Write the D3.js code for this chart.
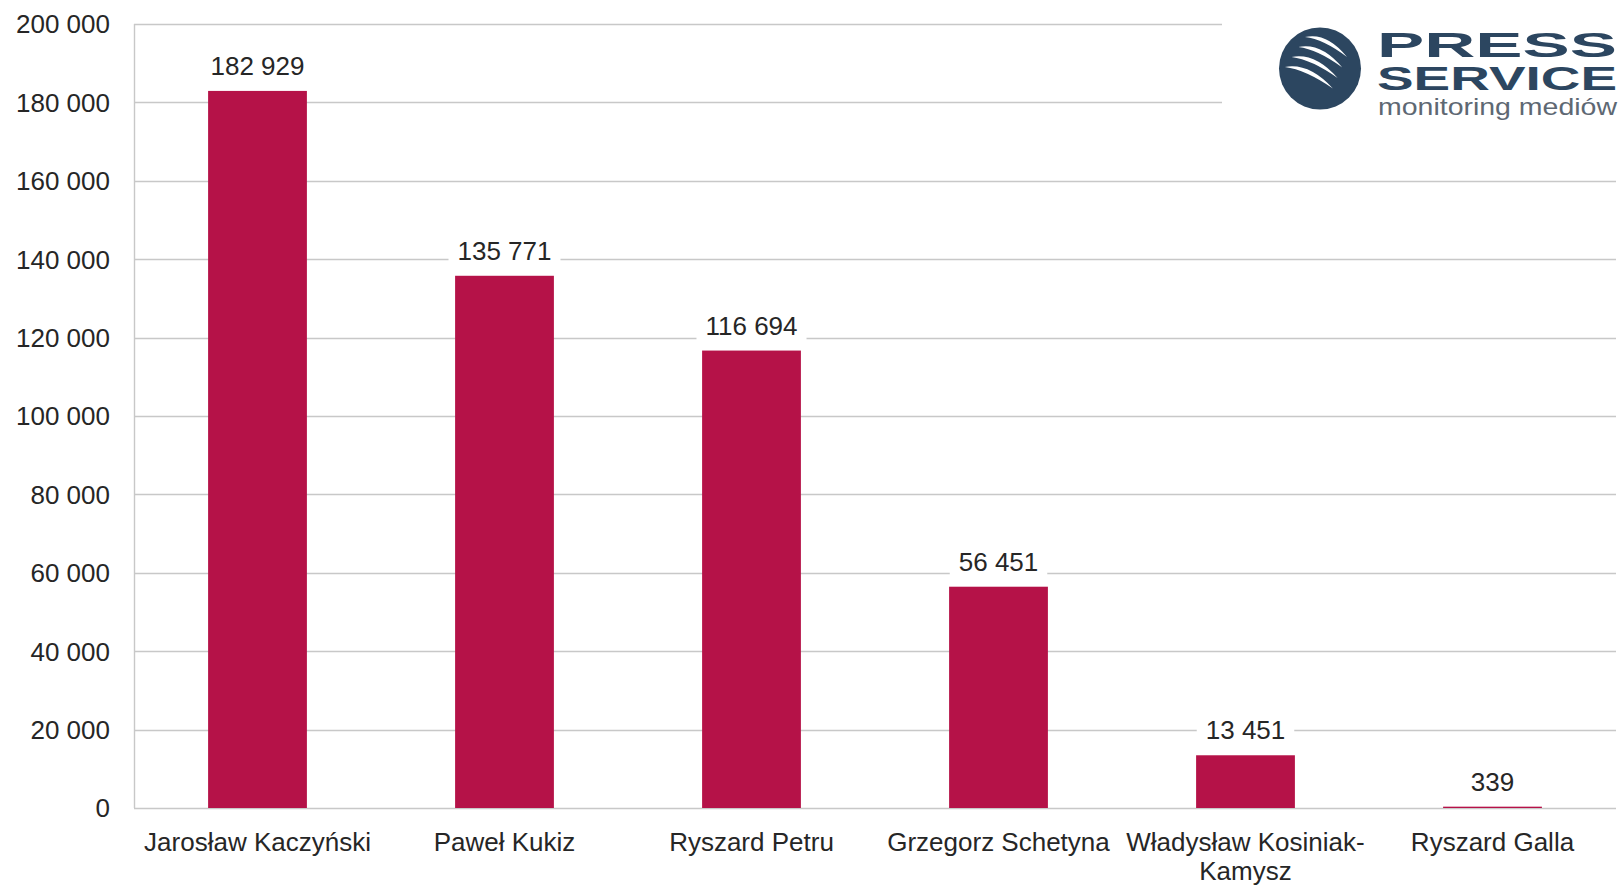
<!DOCTYPE html>
<html>
<head>
<meta charset="utf-8">
<script src="https://cdn.jsdelivr.net/npm/d3@7"></script>
<style>
	body { margin: 0; background: #fff; }
	svg { display: block; }
	text { font-family: "Liberation Sans", Arial, sans-serif; }
</style>
</head>
<body>
<svg id="chart" width="1623" height="886"></svg>
<script>
const categories = [
	"Jarosław Kaczyński",
	"Paweł Kukiz",
	"Ryszard Petru",
	"Grzegorz Schetyna",
	"Władysław Kosiniak-Kamysz",
	"Ryszard Galla",
];
const values = [182929, 135771, 116694, 56451, 13451, 339];
const yTicks = [0, 20000, 40000, 60000, 80000, 100000, 120000, 140000, 160000, 180000, 200000];

const colors = {
	bar: "#B51248",
	grid: "#C8C8C8",
	text: "#262626",
	logo: "#2C4660",
	logoSub: "#5E6873",
	white: "#ffffff",
};

const width = 1623;
const height = 886;
const margin = { top: 24, right: 7, bottom: 78, left: 134 };
const fontSize = 26;

const svg = d3.select("#chart");

const fmt = d3.formatLocale({ decimal: ",", thousands: " ", grouping: [3], currency: ["", ""] }).format(",d");

const x = d3
	.scaleBand()
	.domain(categories)
	.range([margin.left, width - margin.right])
	.paddingInner(0.6)
	.paddingOuter(0.3);

const y = d3
	.scaleLinear()
	.domain([0, 200000])
	.range([height - margin.bottom, margin.top]);

const data = categories.map((c, i) => ({ label: c, value: values[i] }));

// gridlines
svg
	.append("g")
	.attr("class", "grid")
	.selectAll("line")
	.data(yTicks)
	.join("line")
	.attr("x1", margin.left)
	.attr("x2", width - margin.right)
	.attr("y1", (d) => Math.round(y(d)) + 0.5)
	.attr("y2", (d) => Math.round(y(d)) + 0.5)
	.attr("stroke", colors.grid)
	.attr("stroke-width", 1.4);

// vertical axis line
svg
	.append("line")
	.attr("x1", margin.left + 0.5)
	.attr("x2", margin.left + 0.5)
	.attr("y1", y(200000))
	.attr("y2", y(0))
	.attr("stroke", colors.grid)
	.attr("stroke-width", 1.4);

// y tick labels
svg
	.append("g")
	.selectAll("text")
	.data(yTicks)
	.join("text")
	.attr("x", margin.left - 24)
	.attr("y", (d) => y(d))
	.attr("dy", "0.36em")
	.attr("text-anchor", "end")
	.attr("font-size", fontSize)
	.attr("fill", colors.text)
	.text((d) => fmt(d));

// bars
svg
	.append("g")
	.selectAll("rect")
	.data(data)
	.join("rect")
	.attr("x", (d) => x(d.label))
	.attr("width", x.bandwidth())
	.attr("y", (d) => y(d.value))
	.attr("height", (d) => y(0) - y(d.value))
	.attr("fill", colors.bar);

// value labels with white box behind
const valueLabel = svg
	.append("g")
	.selectAll("g")
	.data(data)
	.join("g")
	.attr("transform", (d) => `translate(${x(d.label) + x.bandwidth() / 2},${y(d.value) - 16})`);

valueLabel
	.append("text")
	.attr("text-anchor", "middle")
	.attr("font-size", fontSize)
	.attr("fill", colors.text)
	.text((d) => fmt(d.value));

valueLabel.each(function () {
	const g = d3.select(this);
	const b = g.select("text").node().getBBox();
	g.insert("rect", "text")
		.attr("x", b.x - 9)
		.attr("y", b.y)
		.attr("width", b.width + 18)
		.attr("height", b.height)
		.attr("fill", colors.white);
});

// category labels
svg
	.append("g")
	.selectAll("text")
	.data(categories)
	.join("text")
	.attr("x", (d) => x(d) + x.bandwidth() / 2)
	.attr("y", y(0) + 43)
	.attr("text-anchor", "middle")
	.attr("font-size", fontSize)
	.attr("fill", colors.text)
	.text((d) => d)
	.each(wrap);

function wrap() {
	const maxWidth = x.step();
	const self = d3.select(this);
	if (self.node().getComputedTextLength() <= maxWidth) return;
	// break after spaces and hyphens
	const words = self.text().match(/[^\s-]+-?/g);
	const cx = self.attr("x");
	const y0 = self.attr("y");
	self.text(null);
	let lineNo = 0;
	let line = [];
	let tspan = self.append("tspan").attr("x", cx).attr("y", y0);
	const join = (arr) => arr.map((w, i) => (i > 0 && !arr[i - 1].endsWith("-") ? " " + w : w)).join("");
	words.forEach((w) => {
		line.push(w);
		tspan.text(join(line));
		if (tspan.node().getComputedTextLength() > maxWidth && line.length > 1) {
			line.pop();
			tspan.text(join(line));
			line = [w];
			lineNo++;
			tspan = self.append("tspan").attr("x", cx).attr("y", +y0 + lineNo * 29).text(w);
		}
	});
}

// logo
const logo = svg.append("g").attr("class", "logo");
logo.append("rect").attr("x", 1222).attr("y", 0).attr("width", 401).attr("height", 126).attr("fill", colors.white);

const cx = 1320;
const cy = 68.5;
const r = 41;
logo.append("circle").attr("cx", cx).attr("cy", cy).attr("r", r).attr("fill", colors.logo);

// white crescent stripes, upper-left to lower-right
const stripes = [0, 1, 2, 3];
logo
	.append("g")
	.selectAll("path")
	.data(stripes)
	.join("path")
	.attr("fill", colors.white)
	.attr("d", (i) => {
		const s = [cx - 15 - 6.7 * i, cy - 31.5 + 10 * i];
		const e = [cx + 27 - 4.7 * i, cy - 11.5 + 10.5 * i];
		const dx = e[0] - s[0];
		const dy = e[1] - s[1];
		const len = Math.hypot(dx, dy);
		const px = dy / len;
		const py = -dx / len;
		const mx = (s[0] + e[0]) / 2 - dx * 0.12;
		const my = (s[1] + e[1]) / 2 - dy * 0.12;
		const c1 = [mx + px * 14, my + py * 14];
		const c2 = [mx + px * 6, my + py * 6];
		return `M${s[0]},${s[1]} Q${c1[0]},${c1[1]} ${e[0]},${e[1]} Q${c2[0]},${c2[1]} ${s[0]},${s[1]} Z`;
	});

logo
	.append("text")
	.attr("x", 1377)
	.attr("y", 57)
	.attr("font-size", 35)
	.attr("font-weight", 900)
	.attr("fill", colors.logo)
	.attr("textLength", 240)
	.attr("lengthAdjust", "spacingAndGlyphs")
	.text("PRESS");

logo
	.append("text")
	.attr("x", 1377)
	.attr("y", 90)
	.attr("font-size", 33)
	.attr("font-weight", 900)
	.attr("fill", colors.logo)
	.attr("textLength", 240)
	.attr("lengthAdjust", "spacingAndGlyphs")
	.text("SERVICE");

logo
	.append("text")
	.attr("x", 1378)
	.attr("y", 115)
	.attr("font-size", 24)
	.attr("font-family", "'Open Sans', 'DejaVu Sans', sans-serif")
	.attr("font-weight", 300)
	.attr("fill", colors.logoSub)
	.attr("textLength", 239)
	.attr("lengthAdjust", "spacingAndGlyphs")
	.text("monitoring mediów");
</script>
</body>
</html>
